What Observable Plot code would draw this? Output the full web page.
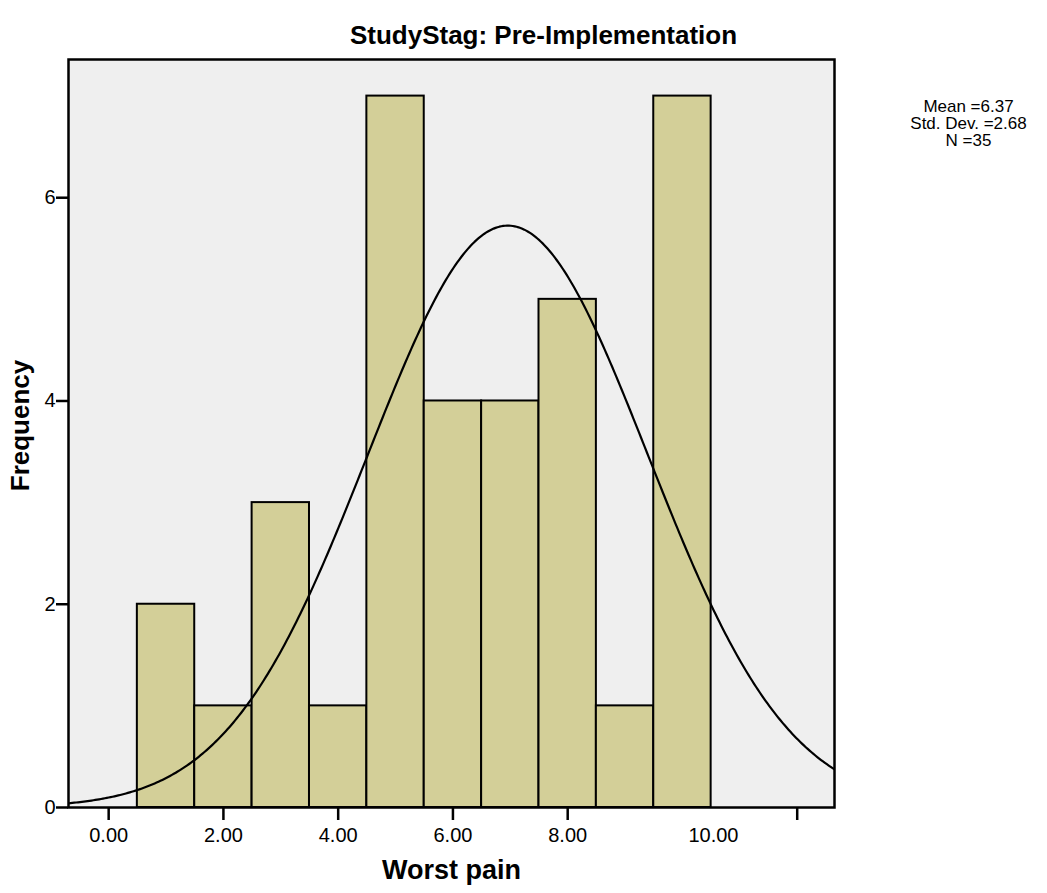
<!DOCTYPE html>
<html>
<head>
<meta charset="utf-8">
<script src="https://cdn.jsdelivr.net/npm/d3@7"></script>
<script src="https://cdn.jsdelivr.net/npm/@observablehq/plot@0.6"></script>
<style>
  html, body { margin: 0; padding: 0; background: #ffffff; }
  #chart svg { display: block; }
</style>
</head>
<body>
<div id="chart"></div>
<script>
// Histogram of worst pain scores, pre-implementation stage
const binCenters = [1, 2, 3, 4, 5, 6, 7, 8, 9, 10];
const binCounts = [2, 1, 3, 1, 7, 4, 4, 5, 1, 7];

// Summary statistics shown beside the chart (raw score units)
const meanValue = 6.37;
const sdValue = 2.68;
const nValue = 35;

// Axis ticks and their labels
const tickMarks = [0, 2, 4, 6, 8, 12];
const tickLabelValues = [0, 2, 4, 6, 8];
const yTicks = [0, 2, 4, 6];

const titleText = "StudyStag: Pre-Implementation";
const xLabel = "Worst pain";
const yLabel = "Frequency";

// The fitted normal curve is computed in raw score units; on the binned axis
// a raw score v sits at rawShift + rawScale * v, so one bar spans 1/rawScale raw units.
const rawScale = 0.91;
const rawShift = 1.16;
const xDomain = [-0.7, 12.65];
const yDomain = [0, 7.36];

const bins = binCenters.map((c, i) => ({x1: c - 0.5, x2: c + 0.5, count: binCounts[i]}));

const normalPdf = v => Math.exp(-0.5 * ((v - meanValue) / sdValue) ** 2) / (sdValue * Math.sqrt(2 * Math.PI));
const curve = d3.range(0, 401).map(i => {
  const u = xDomain[0] + (xDomain[1] - xDomain[0]) * i / 400;
  const v = (u - rawShift) / rawScale;
  return {u, freq: nValue * (1 / rawScale) * normalPdf(v)};
});

const fmt2 = d3.format(".2f");
const statsText = `Mean =${meanValue.toFixed(2)}\nStd. Dev. =${sdValue.toFixed(2)}\nN =${nValue}`;

const chart = Plot.plot({
  width: 1047,
  height: 893,
  marginLeft: 68,
  marginRight: 213,
  marginTop: 59,
  marginBottom: 86,
  style: {fontFamily: "'Liberation Sans', Arial, sans-serif", background: "#ffffff", color: "#000"},
  x: {domain: xDomain},
  y: {domain: yDomain},
  marks: [
    Plot.frame({fill: "#efefef", stroke: null}),
    Plot.rectY(bins, {x1: "x1", x2: "x2", y: "count", fill: "#d3cf98", stroke: "#000", strokeWidth: 2, inset: 0}),
    Plot.line(curve, {x: "u", y: "freq", stroke: "#000", strokeWidth: 2.2, clip: "frame"}),
    Plot.frame({stroke: "#000", strokeWidth: 2.5}),
    Plot.axisY({ticks: yTicks, tickSize: 12, tickPadding: 1, tickFormat: d => String(d), fontSize: 20, strokeWidth: 2.5, label: null}),
    Plot.axisX({ticks: tickMarks, tickSize: 13, tickPadding: 7, strokeWidth: 2.5, fontSize: 20,
      tickFormat: d => tickLabelValues.includes(d) ? fmt2(d) : "", label: null}),
    // label for the last bar's upper edge sits beside its tick position
    Plot.text([10], {x: d => d, text: d => fmt2(d), frameAnchor: "bottom", lineAnchor: "top", dx: 31, dy: 20, fontSize: 20}),
    Plot.text([titleText], {frameAnchor: "top", dx: 92, dy: -34, fontSize: 26, fontWeight: "bold", letterSpacing: -0.5}),
    Plot.text([statsText], {frameAnchor: "top-right", textAnchor: "middle", lineAnchor: "top", dx: 134, dy: 40, fontSize: 17, lineHeight: 1, letterSpacing: 0.8, fill: "#000"}),
    Plot.text([xLabel], {frameAnchor: "bottom", dy: 71, fontSize: 27, fontWeight: "bold"}),
    Plot.text([yLabel], {frameAnchor: "left", textAnchor: "middle", dx: -48, dy: -8, rotate: -90, fontSize: 26, fontWeight: "bold"})
  ]
});

document.getElementById("chart").appendChild(chart);
</script>
</body>
</html>
